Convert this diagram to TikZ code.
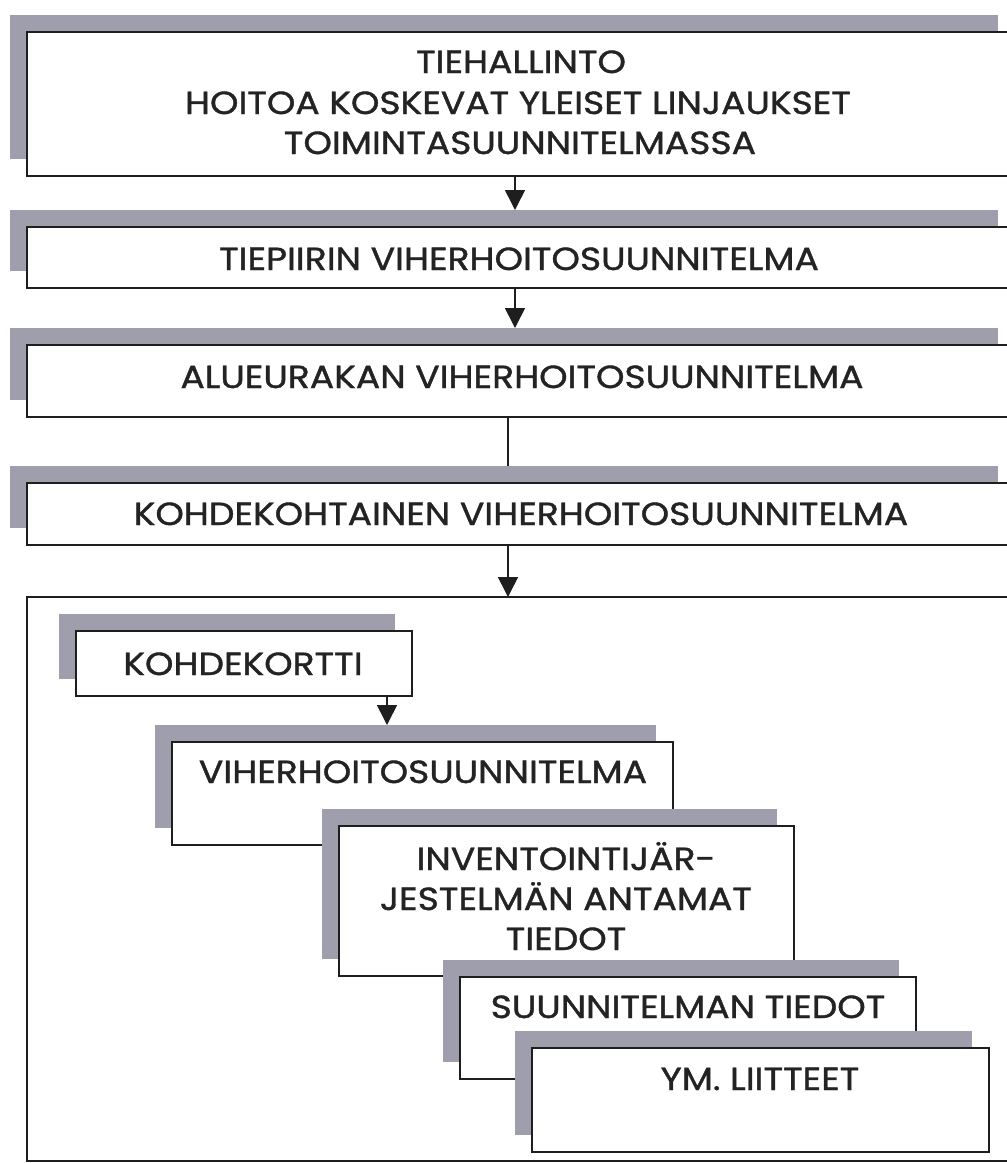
\documentclass[tikz,border=0pt]{standalone}
\usepackage{fontspec}
\setmainfont{Poppins}[FakeStretch=1.13,FakeBold=1.2]
\usetikzlibrary{arrows.meta}
\definecolor{shadowc}{RGB}{158,158,172}
\definecolor{linec}{RGB}{30,30,30}
\definecolor{textc}{RGB}{35,35,35}
\newcommand\mybox[5]{%
  \node[shadebox, minimum width=#4pt-#2pt, minimum height=#5pt-#3pt] (#1s) at ({(#2+#4)/2-17},{(#3+#5)/2-17}) {};
  \node[boxx, minimum width=#4pt-#2pt, minimum height=#5pt-#3pt] (#1) at ({(#2+#4)/2},{(#3+#5)/2}) {};
}
\begin{document}
\begin{tikzpicture}[x=1pt,y=-1pt,
  shadebox/.style={fill=shadowc, draw=none, inner sep=0pt, outer sep=0pt},
  boxx/.style={draw=linec, line width=1.8pt, fill=white, inner sep=0pt, outer sep=0pt},
  bigbox/.style={draw=linec, line width=1.6pt, inner sep=0pt, outer sep=0pt},
  lbl/.style={anchor=base, inner sep=0pt, text=textc, font=\fontsize{32}{38}\selectfont},
  arr/.style={draw=linec, line width=1.6pt, -{Triangle[width=20pt,length=20pt]}},
  conn/.style={draw=linec, line width=1.6pt}]
\useasboundingbox[fill=white] (0,0) rectangle (1007,1163);
\coordinate (xa) at (515,0);
\coordinate (xb) at (508,0);
\coordinate (xk) at (387,0);
% top chain
\mybox{b1}{27}{32}{1015}{176}
\node[lbl] (b1a) at (521,73) {TIEHALLINTO};
\node[lbl] (b1b) at (518,114) {HOITOA KOSKEVAT YLEISET LINJAUKSET};
\node[lbl] (b1c) at (520,154) {TOIMINTASUUNNITELMASSA};
\mybox{b2}{27}{227}{1015}{288}
\node[lbl] (b2a) at (519,270) {TIEPIIRIN VIHERHOITOSUUNNITELMA};
\mybox{b3}{27}{345}{1015}{417}
\node[lbl] (b3a) at (522,388) {ALUEURAKAN VIHERHOITOSUUNNITELMA};
\mybox{b4}{27}{483}{1015}{545}
\node[lbl] (b4a) at (521,525) {KOHDEKOHTAINEN VIHERHOITOSUUNNITELMA};
\node[bigbox, minimum width=988pt, minimum height=564pt] (big) at (521,879) {};
\draw[arr] (b1.south -| xa) -- (b2s.north -| xa);
\draw[arr] (b2.south -| xa) -- (b3s.north -| xa);
\draw[conn] (b3.south -| xb) -- (b4s.north -| xb);
\draw[arr] (b4.south -| xb) -- (big.north -| xb);
% inner cascade
\mybox{k}{76}{631}{412}{696}
\node[lbl] (ka) at (243,675) {KOHDEKORTTI};
\mybox{v}{172}{742}{673}{845}
\node[lbl] (va) at (423,783) {VIHERHOITOSUUNNITELMA};
\draw[arr] (k.south -| xk) -- (vs.north -| xk);
\mybox{i}{339}{826}{794}{976}
\node[lbl] (ia) at (566,870) {INVENTOINTIJÄR-};
\node[lbl] (ib) at (566,910) {JESTELMÄN ANTAMAT};
\node[lbl] (ic) at (566,950) {TIEDOT};
\mybox{s}{460}{977}{916}{1079}
\node[lbl] (sa) at (688,1018) {SUUNNITELMAN TIEDOT};
\mybox{y}{532}{1048}{989}{1152}
\node[lbl] (ya) at (760,1090) {YM. LIITTEET};
\end{tikzpicture}
\end{document}
